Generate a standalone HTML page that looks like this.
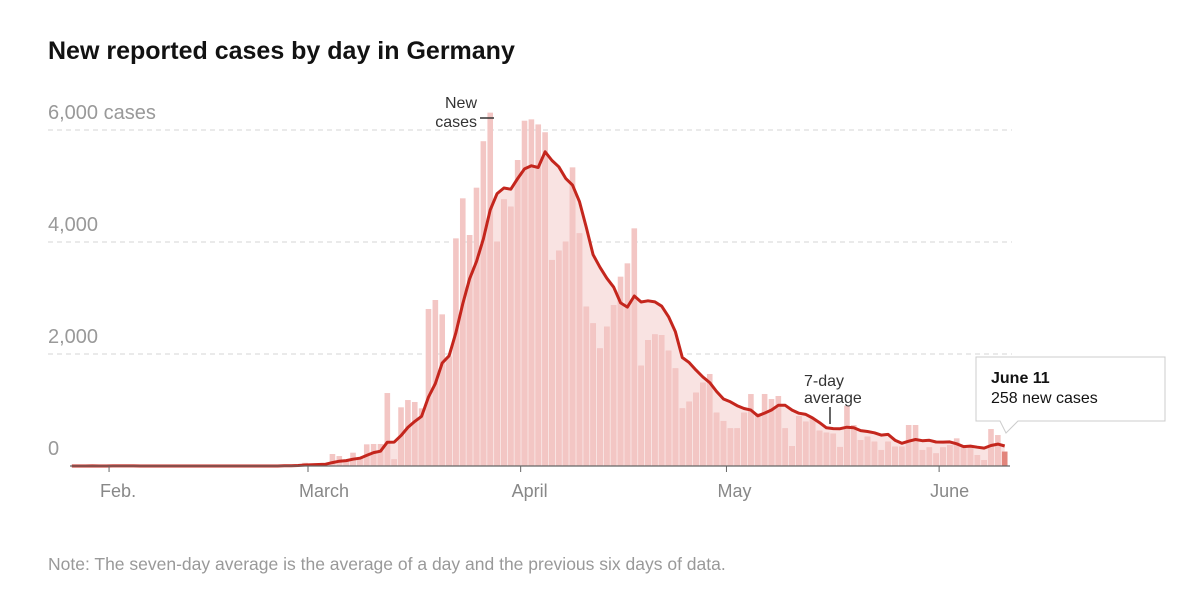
<!DOCTYPE html>
<html><head><meta charset="utf-8"><style>
body{margin:0;background:#fff;font-family:"Liberation Sans",sans-serif;}
#wrap{position:relative;width:1200px;height:593px;overflow:hidden;}
</style></head><body>
<div id="wrap">
<svg id="chart" width="1200" height="593">
<text x="48" y="59" font-size="25" font-weight="bold" fill="#121212">New reported cases by day in Germany</text>
<g id="grid"></g>
<g id="area"></g>
<g id="bars"></g>
<g id="line"></g>
<g id="xaxis"></g>
<text x="48" y="570" font-size="17.5" fill="#999">Note: The seven-day average is the average of a day and the previous six days of data.</text>
<g>
<text x="477" y="108" font-size="16" fill="#333" text-anchor="end">New</text>
<text x="477" y="127" font-size="16" fill="#333" text-anchor="end">cases</text>
<line x1="480" y1="118" x2="494" y2="118" stroke="#333" stroke-width="1.5"/>
</g>
<g>
<text x="804" y="386" font-size="16" fill="#333">7-day</text>
<text x="804" y="403" font-size="16" fill="#333">average</text>
<line x1="830" y1="407" x2="830" y2="424" stroke="#333" stroke-width="1.5"/>
</g>
<g>
<path d="M976,357 H1165 V421 H1018 L1006,433 L1000,421 H976 Z" fill="#fff" stroke="#ccc" stroke-width="1"/>
<text x="991" y="383" font-size="16" font-weight="bold" fill="#121212">June 11</text>
<text x="991" y="403" font-size="16" fill="#121212">258 new cases</text>
</g>
</svg>
</div>
<script>
const startDate = [2020, 0, 27];
const cases = [
0,0,1,3,0,1,2,0,0,1,2,0,0,0,0,0,0,0,0,0,0,0,0,0,0,0,0,0,0,2,4,20,9,31,
57,37,32,45,214,178,107,238,155,387,393,393,1303,119,1048,1178,1143,1030,2804,2964,2708,1950,4065,4780,4125,4970,5800,6310,4006,4762,4630,
5464,6166,6190,6100,5960,3679,3845,4006,5333,4155,2845,2548,2101,2488,2875,3381,3619,4244,1791,2250,2351,2339,2059,1744,1030,1149,1310,1488,1643,952,
804,673,673,952,1285,941,1286,1196,1250,673,357,893,792,833,631,595,580,340,1077,732,464,524,434,286,434,345,345,732,732,286,333,
226,333,375,494,375,357,196,107,660,553,258
];
const yTicks = [0, 2000, 4000, 6000];
const yTickLabels = ["0", "2,000", "4,000", "6,000 cases"];
const monthTicks = [[2020,1,1],[2020,2,1],[2020,3,1],[2020,4,1],[2020,5,1]];
const monthLabels = ["Feb.", "March", "April", "May", "June"];

const NS = "http://www.w3.org/2000/svg";
const DAY = 86400000;
const t0 = Date.UTC(startDate[0], startDate[1], startDate[2]);
const mar1 = Date.UTC(2020, 2, 1);
const pxDay = 6.86;
function xDay(i){ return 308 + (t0 + i*DAY - mar1)/DAY*pxDay - 3; }
function xDate(d){ return 308 + (Date.UTC(d[0],d[1],d[2]) - mar1)/DAY*pxDay; }
function y(v){ return 466 - v*0.056; }
function mk(tag, attrs, parent){ const e=document.createElementNS(NS,tag); for(const k in attrs) e.setAttribute(k,attrs[k]); parent.appendChild(e); return e; }

const grid = document.getElementById('grid');
yTicks.forEach((v,i)=>{
  if(v>0){
    const l = mk('line',{x1:48,x2:1012,y1:y(v),y2:y(v),stroke:'#ddd','stroke-dasharray':'5,4','stroke-width':1.2},grid);
    
    
  }
  const t = mk('text',{x:48,y:y(v)-11,'font-size':20,fill:'#999'},grid);
  t.textContent = yTickLabels[i];
  
  
});

const avg = cases.map((c,i)=>{ let s=0,n=0; for(let j=Math.max(0,i-6);j<=i;j++){s+=cases[j];n++;} return s/n; });
let pts = avg.map((v,i)=>xDay(i).toFixed(1)+','+y(v).toFixed(1));
const areaD = 'M'+xDay(0)+','+y(0)+' L'+pts.join(' L')+' L'+xDay(cases.length-1)+','+y(0)+' Z';
const defs = mk('defs',{},document.getElementById('chart'));
const cp = mk('clipPath',{id:'under'},defs);
mk('path',{d:areaD},cp);
mk('path',{d:areaD,fill:'#f9e3e2'},document.getElementById('area'));

const bars = document.getElementById('bars');
const dark = mk('g',{'clip-path':'url(#under)'},bars);
cases.forEach((v,i)=>{
  const last = i===cases.length-1;
  const b = mk('rect',{x:xDay(i)-2.8,y:y(v),width:5.6,height:Math.max(0,466-y(v)),fill:last?'#e2857c':'#f3c6c4'},bars);
  
  
  if(!last){
    const d = mk('rect',{x:xDay(i)-2.8,y:y(v),width:5.6,height:Math.max(0,466-y(v)),fill:'#eab0ae'},dark);
    
    
  }
});

const ln = mk('polyline',{points:pts.join(' '),fill:'none',stroke:'#c4261d','stroke-width':3,'stroke-linejoin':'round'},document.getElementById('line'));



const xa = document.getElementById('xaxis');
const base = mk('line',{x1:70,x2:1010,y1:466,y2:466,stroke:'#666','stroke-width':1.2},xa);


monthTicks.forEach((d,i)=>{
  const x = xDate(d);
  const tk = mk('line',{x1:x,x2:x,y1:466,y2:472,stroke:'#666','stroke-width':1},xa);
  
  
  const t = mk('text',{x:x-9,y:497,'font-size':18,fill:'#888'},xa);
  t.textContent = monthLabels[i];
  
  
});
</script>
</body></html>
